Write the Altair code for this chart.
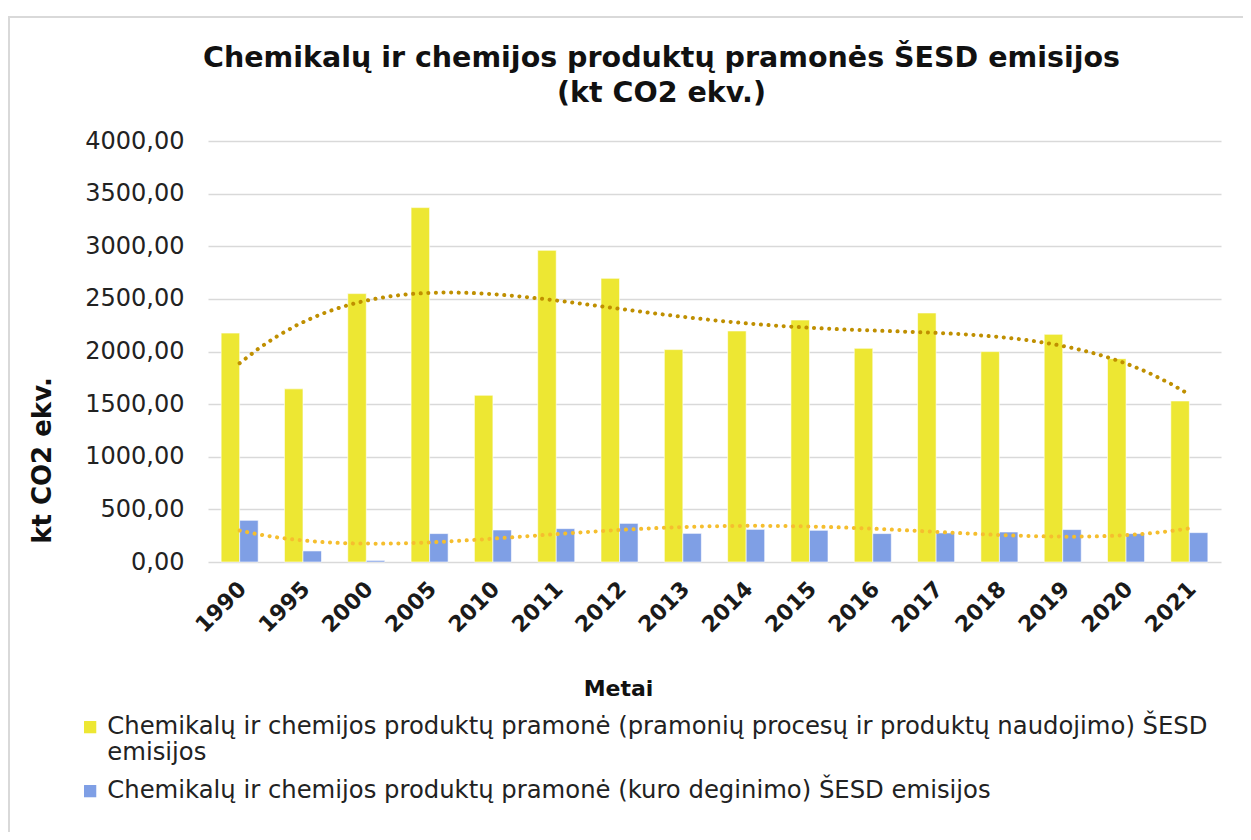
import altair as alt
import pandas as pd

years = ["1990", "1995", "2000", "2005", "2010", "2011", "2012", "2013",
         "2014", "2015", "2016", "2017", "2018", "2019", "2020", "2021"]
process_vals = [2175, 1645, 2550, 3367, 1584, 2961, 2695, 2018,
                2195, 2299, 2030, 2366, 1999, 2163, 1932, 1530]
fuel_vals = [396, 105, 15, 270, 304, 317, 367, 272,
             310, 301, 270, 276, 285, 308, 270, 279]

S1 = "Chemikalų ir chemijos produktų pramonė (pramonių procesų ir produktų naudojimo) ŠESD emisijos"
S2 = "Chemikalų ir chemijos produktų pramonė (kuro deginimo) ŠESD emisijos"
S1_lines = ["Chemikalų ir chemijos produktų pramonė (pramonių procesų ir produktų naudojimo) ŠESD", "emisijos"]

rows = []
for i, y in enumerate(years):
    rows.append({"year": y, "idx": i + 1, "series": S1, "value": process_vals[i]})
    rows.append({"year": y, "idx": i + 1, "series": S2, "value": fuel_vals[i]})
df = pd.DataFrame(rows)

W, H = 1013, 421
FONT = "DejaVu Sans"
YELLOW = "#EDE733"
BLUE = "#7F9FE5"
GOLD = "#BF8F00"
LIGHT = "#F5BE2E"

yscale = alt.Scale(domain=[0, 4000])

bars = alt.Chart(df).mark_bar(stroke="white", strokeWidth=0.6).encode(
    x=alt.X("year:N", sort=years,
            scale=alt.Scale(paddingInner=0.415, paddingOuter=0.2075),
            axis=alt.Axis(title="Metai", labelAngle=-45, labelFontWeight="bold",
                          labelFontSize=22, labelColor="#1a1a1a", labelPadding=16,
                          labelOffset=-4,
                          ticks=False, domain=False, grid=False,
                          titleFontSize=22, titleFontWeight="bold", titleColor="#111",
                          titleX=410, titleY=116, titleAnchor="middle")),
    xOffset=alt.XOffset("series:N", sort=[S1, S2]),
    y=alt.Y("value:Q", scale=yscale,
            axis=alt.Axis(title="kt CO2 ekv.", values=list(range(0, 4001, 500)),
                          labelExpr="replace(format(datum.value, '.2f'), '.', ',')",
                          labelFontSize=24, labelColor="#222", labelPadding=24,
                          ticks=False, domain=False, grid=True,
                          gridColor="#D9D9D9", gridWidth=1.5,
                          titleFontSize=26, titleFontWeight="bold", titleColor="#111",
                          titleX=-166, titleY=319, titleAngle=-90,
                          titleBaseline="middle", titleAnchor="middle")),
    color=alt.Color("series:N", sort=[S1, S2],
                    scale=alt.Scale(domain=[S1, S2], range=[YELLOW, BLUE]),
                    legend=alt.Legend(title=None, orient="none", legendX=-130, legendY=574,
                                      direction="vertical", symbolType="square",
                                      symbolSize=150, symbolStrokeWidth=0,
                                      labelFontSize=24.3, labelColor="#222",
                                      labelLimit=1200, rowPadding=13, labelOffset=5,
                                      labelExpr="datum.label == '" + S1 + "' ? ['" + S1_lines[0] + "', '" + S1_lines[1] + "'] : datum.label")),
)

xq = alt.X("idx:Q", scale=alt.Scale(domain=[0.5, 16.5], nice=False, zero=False), axis=None)

trend1 = alt.Chart(df).transform_filter(
    alt.datum.series == S1
).transform_regression("idx", "value", method="poly", order=4).mark_line(
    color=GOLD, strokeWidth=4, strokeDash=[0.1, 7.5], strokeCap="round"
).encode(x=xq, y=alt.Y("value:Q", scale=yscale))

trend2 = alt.Chart(df).transform_filter(
    alt.datum.series == S2
).transform_regression("idx", "value", method="poly", order=4).mark_line(
    color=LIGHT, strokeWidth=4, strokeDash=[0.1, 7.5], strokeCap="round"
).encode(x=xq, y=alt.Y("value:Q", scale=yscale))

frame = alt.Chart(pd.DataFrame({"k": [0]})).mark_rect(
    fill="transparent", stroke="#D9D9D9", strokeWidth=2
).encode(x=alt.value(-199), x2=alt.value(1100), y=alt.value(-124), y2=alt.value(800))

chart = alt.layer(frame, bars, trend1, trend2).resolve_scale(x="independent").properties(
    width=W, height=H,
    autosize=alt.AutoSizeParams(type="none"),
    padding={"left": 200, "top": 133, "right": 22, "bottom": 270},
    title=alt.TitleParams(
        ["Chemikalų ir chemijos produktų pramonės ŠESD emisijos", "(kt CO2 ekv.)"],
        fontSize=28.5, fontWeight="bold", color="#111", font=FONT, frame="group",
        anchor="middle", dx=-53, offset=-91, lineHeight=35),
).configure(font=FONT).configure_view(stroke=None)

chart.save("out.html", embed_options={"renderer": "svg", "actions": False})
